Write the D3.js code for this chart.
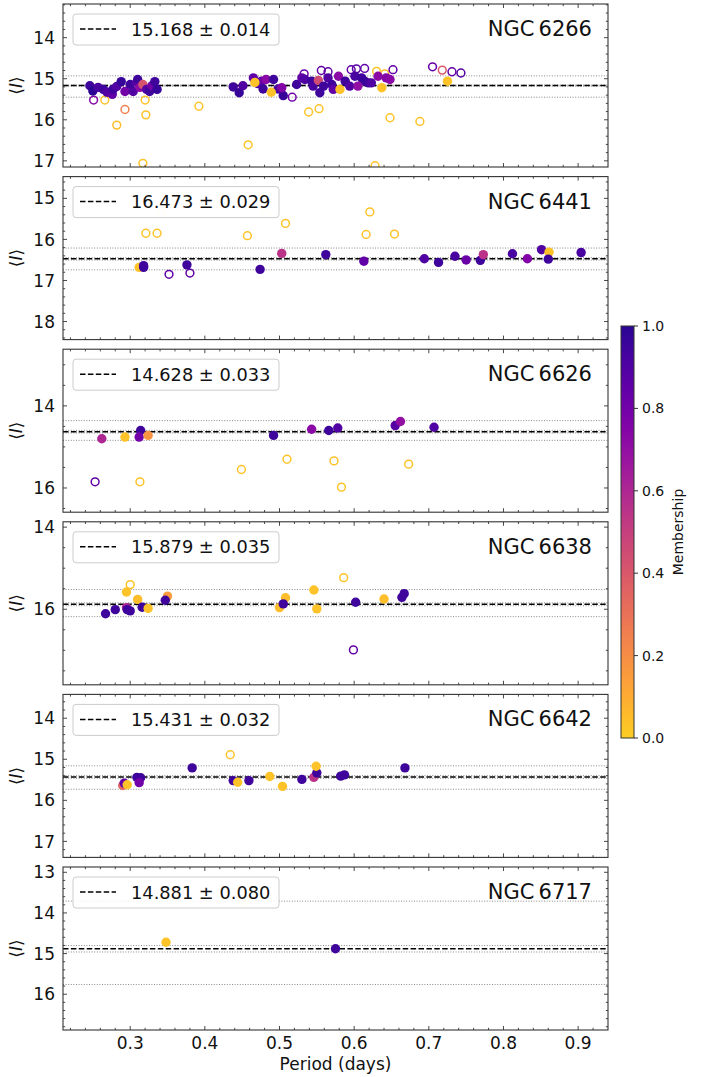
<!DOCTYPE html>
<html><head><meta charset="utf-8">
<script src="https://cdn.jsdelivr.net/npm/d3@7"></script>
<style>body{margin:0;background:#fff}svg{display:block;font-family:"DejaVu Sans",sans-serif}</style>
</head><body><svg id="c" width="708" height="1077"></svg>
<script>
// ---------- data ----------
const clusters = ["NGC 6266","NGC 6441","NGC 6626","NGC 6638","NGC 6642","NGC 6717"];
const means = [15.168,16.473,14.628,15.879,15.431,14.881];
const errs = [0.014,0.029,0.033,0.035,0.032,0.080];
const lowLines = [14.93,16.21,14.36,15.52,15.16,13.71];
const highLines = [15.45,16.74,14.84,16.18,15.73,15.76];
const yMins = [13.18,14.47,12.62,13.87,13.42,12.87];
const yMaxs = [17.15,18.44,16.59,17.84,17.39,16.88];
const yMajorSteps = [1,1,2,2,1,1];
const xDomain = [0.21,0.94];
const xTicks = [0.3,0.4,0.5,0.6,0.7,0.8,0.9];
const cbTicks = [0.0,0.2,0.4,0.6,0.8,1.0];
// [period, <I>, membership, open(1)/filled(0), faint(1)]
const ngc6266 = [
[0.246,15.17,0.95,0],[0.250,15.30,1,0],[0.257,15.21,0.92,0],[0.264,15.26,0.95,0],[0.269,15.33,0.9,0],[0.276,15.38,0.85,0],[0.277,15.26,0.95,0],[0.282,15.19,0.9,0],[0.288,15.07,0.97,0],[0.293,15.31,0.8,0],[0.300,15.14,0.95,0],[0.304,15.31,0.9,0],[0.309,15.09,0.85,0],[0.310,15.02,0.95,0],[0.313,15.21,0.72,0],[0.317,15.14,0.42,0],[0.322,15.26,0.88,0],[0.326,15.31,0.95,0],[0.329,15.17,0.8,0],[0.333,15.07,0.95,0],[0.336,15.26,0.97,0],
[0.438,15.20,0.95,0],[0.446,15.34,0.97,0],[0.451,15.17,0.9,0],[0.465,14.98,0.85,0],[0.471,15.12,0.9,0],[0.476,15.06,0.85,0],[0.482,15.02,0.72,0],[0.478,15.25,0.95,0],[0.492,15.02,0.95,0],[0.498,15.25,0.92,0],[0.505,15.41,0.97,0],[0.503,15.22,0.75,0],[0.523,15.14,0.95,0],[0.530,14.98,0.85,0],[0.534,15.02,0.9,0],[0.543,15.06,0.95,0],[0.545,15.18,0.92,0],[0.552,15.04,0.45,0],[0.559,15.18,0.95,0],[0.565,14.98,0.9,0],[0.570,15.14,0.95,0],[0.572,15.26,0.85,0],[0.579,14.94,0.72,0],[0.588,15.06,0.95,0],[0.594,15.18,0.9,0],[0.601,14.94,0.92,0],[0.554,15.34,0.95,0],[0.610,14.98,0.95,0],[0.614,15.06,0.97,0],[0.605,15.18,0.7,0],[0.619,15.10,0.95,0],[0.623,15.10,0.9,0],[0.632,14.94,0.72,0],[0.643,14.98,0.75,0],[0.648,15.02,0.72,0],
[0.467,15.09,0.03,0],[0.489,15.33,0.03,0],[0.581,15.26,0.03,0],[0.637,15.22,0.03,0],[0.725,15.06,0.03,0],
[0.251,15.52,0.75,1],[0.266,15.52,0.03,1],[0.320,15.52,0.03,1],[0.293,15.75,0.25,1],[0.282,16.13,0.05,1],[0.321,15.88,0.03,1],[0.317,17.06,0.03,1],[0.392,15.67,0.03,1],[0.517,15.45,0.8,1],[0.533,14.88,0.82,1],[0.556,14.80,0.85,1],[0.565,14.83,0.85,1],[0.596,14.78,0.85,1],[0.603,14.76,0.88,1],[0.614,14.75,0.85,1],[0.630,14.82,0.03,1],[0.641,14.88,0.05,1],[0.652,14.78,0.85,1],[0.705,14.71,0.85,1],[0.718,14.79,0.4,1],[0.731,14.83,0.85,1],[0.743,14.86,0.88,1],[0.539,15.81,0.03,1],[0.553,15.73,0.03,1],[0.458,16.61,0.03,1],[0.648,15.95,0.03,1],[0.688,16.04,0.03,1],[0.628,17.12,0.03,1]
];
const ngc6441 = [
[0.312,16.68,0.03,0],[0.318,16.68,0.95,0],[0.318,16.64,0.95,0],[0.321,15.85,0.03,1],[0.336,15.85,0.03,1],[0.342,15.35,0.0,1,1],[0.352,16.85,0.85,1],[0.376,16.62,0.95,0],[0.380,16.82,0.85,1],[0.457,15.91,0.03,1],[0.474,16.73,0.95,0],[0.482,15.35,0.0,1,1],[0.503,16.34,0.55,0],[0.508,15.61,0.03,1],[0.562,16.37,0.95,0],[0.613,16.53,0.85,0],[0.621,15.33,0.03,1],[0.616,15.88,0.03,1],[0.654,15.87,0.03,1],[0.694,16.47,0.9,0],[0.713,16.56,0.95,0],[0.735,16.41,0.92,0],[0.750,16.50,0.82,0],[0.769,16.51,0.95,0],[0.773,16.37,0.55,0],[0.812,16.35,0.92,0],[0.832,16.47,0.75,0],[0.851,16.25,0.9,0],[0.861,16.31,0.03,0],[0.860,16.48,0.95,0],[0.904,16.32,0.92,0]
];
const ngc6626 = [
[0.262,14.80,0.6,0],[0.253,15.85,0.85,1],[0.293,14.76,0.03,0],[0.314,14.60,0.95,0],[0.312,14.76,0.8,0],[0.324,14.72,0.18,0],[0.313,15.85,0.03,1],[0.449,15.55,0.03,1],[0.492,14.72,0.95,0],[0.510,15.30,0.03,1],[0.543,14.57,0.72,0],[0.566,14.60,0.95,0],[0.578,14.54,0.9,0],[0.573,15.34,0.03,1],[0.583,15.98,0.03,1],[0.655,14.48,0.88,0],[0.662,14.38,0.7,0],[0.673,15.42,0.03,1],[0.707,14.52,0.9,0]
];
const ngc6638 = [
[0.267,16.11,0.95,0],[0.280,16.01,0.95,0],[0.295,15.58,0.03,0],[0.300,15.40,0.03,1],[0.295,15.96,0.6,0],[0.296,16.01,0.95,0],[0.300,16.04,0.95,0],[0.310,15.76,0.05,0],[0.316,15.95,0.95,0],[0.324,15.98,0.03,0],[0.350,15.68,0.15,0],[0.347,15.78,0.95,0],[0.500,15.96,0.05,0],[0.508,15.72,0.05,0],[0.505,15.87,0.95,0],[0.546,15.53,0.03,0],[0.550,15.99,0.03,0],[0.586,15.23,0.03,1],[0.599,16.99,0.85,1],[0.602,15.83,0.95,0],[0.640,15.75,0.05,0],[0.664,15.71,0.95,0],[0.667,15.62,0.95,0]
];
const ngc6642 = [
[0.290,15.64,0.35,0],[0.292,15.58,0.85,0],[0.296,15.62,0.03,0],[0.309,15.44,0.95,0],[0.314,15.45,0.95,0],[0.312,15.57,0.8,0],[0.383,15.21,0.95,0],[0.434,14.89,0.03,1],[0.438,15.52,0.95,0],[0.444,15.56,0.03,0],[0.459,15.52,0.95,0],[0.487,15.42,0.03,0],[0.504,15.66,0.03,0],[0.530,15.49,0.95,0],[0.546,15.44,0.55,0],[0.550,15.33,0.95,0],[0.549,15.17,0.03,0],[0.582,15.41,0.95,0],[0.587,15.38,0.95,0],[0.668,15.21,0.95,0]
];
const ngc6717 = [
[0.348,14.72,0.03,0],[0.455,13.71,0.0,0,1],[0.575,14.88,0.95,0]
];
const stars = [ngc6266,ngc6441,ngc6626,ngc6638,ngc6642,ngc6717];

// ---------- layout ----------
const svg = d3.select("#c");
const L = 63, R = 608, PH = 163, PSTEP = 172.6, TOP0 = 4;
const frame = "#333";
const cmap = m => d3.interpolatePlasma(0.9 - 0.85*m);
const x = d3.scaleLinear().domain(xDomain).range([L,R]);

clusters.forEach((name,i)=>{
  const top = TOP0 + i*PSTEP, bot = top + PH;
  const y = d3.scaleLinear().domain([yMins[i],yMaxs[i]]).range([top,bot]);
  const g = svg.append("g");
  const clipId = "clip"+i;
  svg.append("clipPath").attr("id",clipId).append("rect").attr("x",L).attr("y",top).attr("width",R-L).attr("height",PH);
  const pg = g.append("g").attr("clip-path",`url(#${clipId})`);
  const dotted = [lowLines[i],highLines[i],means[i]-errs[i],means[i]+errs[i]];
  dotted.forEach(v=>pg.append("line").attr("x1",L).attr("x2",R).attr("y1",y(v)).attr("y2",y(v))
    .attr("stroke","#888").attr("stroke-width",1).attr("stroke-dasharray","1,1.6"));
  pg.append("line").attr("x1",L).attr("x2",R).attr("y1",y(means[i])).attr("y2",y(means[i]))
    .attr("stroke","#000").attr("stroke-width",1.5).attr("stroke-dasharray","5.5,2.4");
  const data = stars[i];
  pg.selectAll("circle.o").data(data.filter(d=>d[3]===1)).join("circle")
    .attr("cx",d=>x(d[0])).attr("cy",d=>y(d[1])).attr("r",3.9)
    .attr("fill","none").attr("stroke",d=>cmap(d[2])).attr("stroke-width",1.5)
    .attr("opacity",d=>d[4]?0.3:1);
  pg.selectAll("circle.f").data(data.filter(d=>d[3]===0)).join("circle")
    .attr("cx",d=>x(d[0])).attr("cy",d=>y(d[1])).attr("r",4.7)
    .attr("fill",d=>cmap(d[2])).attr("opacity",d=>d[4]?0.2:1);
  const st = yMajorSteps[i];
  const yMaj = d3.range(Math.ceil(yMins[i]/st)*st, yMaxs[i]+1e-9, st);
  const mst = st===1?0.2:0.5;
  const yMin = d3.range(Math.ceil(yMins[i]/mst-1e-9)*mst, yMaxs[i], mst).filter(v=>Math.abs(v/st-Math.round(v/st))>1e-6);
  const tk = g.append("g").attr("stroke",frame).attr("stroke-width",0.9);
  yMaj.forEach(v=>{tk.append("line").attr("x1",L).attr("x2",L+4).attr("y1",y(v)).attr("y2",y(v));
                   tk.append("line").attr("x1",R).attr("x2",R-4).attr("y1",y(v)).attr("y2",y(v));});
  yMin.forEach(v=>{tk.append("line").attr("x1",L).attr("x2",L+2.2).attr("y1",y(v)).attr("y2",y(v));
                   tk.append("line").attr("x1",R).attr("x2",R-2.2).attr("y1",y(v)).attr("y2",y(v));});
  const xMinT = d3.range(0.22,0.94,0.02).filter(v=>Math.abs(v*10-Math.round(v*10))>1e-6);
  xTicks.forEach(v=>{tk.append("line").attr("x1",x(v)).attr("x2",x(v)).attr("y1",bot).attr("y2",bot-4);
                     tk.append("line").attr("x1",x(v)).attr("x2",x(v)).attr("y1",top).attr("y2",top+4);});
  xMinT.forEach(v=>{tk.append("line").attr("x1",x(v)).attr("x2",x(v)).attr("y1",bot).attr("y2",bot-2.2);
                    tk.append("line").attr("x1",x(v)).attr("x2",x(v)).attr("y1",top).attr("y2",top+2.2);});
  g.append("rect").attr("x",L).attr("y",top).attr("width",R-L).attr("height",PH)
    .attr("fill","none").attr("stroke",frame).attr("stroke-width",1.1);
  yMaj.forEach(v=>g.append("text").attr("x",L-8).attr("y",y(v)).attr("dy","0.36em")
    .attr("text-anchor","end").attr("font-size",17).attr("fill","#111").text(d3.format("d")(v)));
  g.append("text").attr("transform",`translate(22,${(top+bot)/2}) rotate(-90)`)
    .attr("text-anchor","middle").attr("font-size",17).attr("fill","#111")
    .html('⟨<tspan font-style="italic">I</tspan>⟩');
  g.append("rect").attr("x",73).attr("y",top+10).attr("width",206).attr("height",31).attr("rx",3)
    .attr("fill","#fff").attr("fill-opacity",0.85).attr("stroke","#ccc").attr("stroke-width",1);
  g.append("line").attr("x1",80).attr("x2",116).attr("y1",top+25).attr("y2",top+25)
    .attr("stroke","#000").attr("stroke-width",1.5).attr("stroke-dasharray","5.5,2.4");
  g.append("text").attr("x",131).attr("y",top+31.5).attr("font-size",17.8).attr("fill","#111")
    .text(`${means[i].toFixed(3)} ± ${errs[i].toFixed(3)}`);
  g.append("text").attr("x",592).attr("y",top+32).attr("text-anchor","end").attr("font-size",21).attr("fill","#111")
    .text(name.replace(" ","\u2009"));
  if(i===clusters.length-1){
    xTicks.forEach(v=>g.append("text").attr("x",x(v)).attr("y",bot+19).attr("text-anchor","middle")
      .attr("font-size",17).attr("fill","#111").text(v.toFixed(1)));
    g.append("text").attr("x",(L+R)/2).attr("y",bot+40).attr("text-anchor","middle")
      .attr("font-size",17).attr("fill","#111").text("Period (days)");
  }
});

// ---------- colorbar ----------
const cbX = 621, cbW = 13, cbTop = 326, cbBot = 738;
const grad = svg.append("defs").append("linearGradient").attr("id","cb").attr("x1",0).attr("x2",0).attr("y1",1).attr("y2",0);
d3.range(0,1.0001,0.05).forEach(t=>grad.append("stop").attr("offset",t).attr("stop-color",cmap(t)));
svg.append("rect").attr("x",cbX).attr("y",cbTop).attr("width",cbW).attr("height",cbBot-cbTop).attr("fill","url(#cb)")
  .attr("stroke",frame).attr("stroke-width",1);
const cy = d3.scaleLinear().domain([0,1]).range([cbBot,cbTop]);
cbTicks.forEach(v=>{
  svg.append("line").attr("x1",cbX+cbW).attr("x2",cbX+cbW+4).attr("y1",cy(v)).attr("y2",cy(v)).attr("stroke",frame);
  svg.append("text").attr("x",cbX+cbW+8).attr("y",cy(v)).attr("dy","0.36em").attr("font-size",14).attr("fill","#111").text(v.toFixed(1));
});
svg.append("text").attr("transform",`translate(683,${(cbTop+cbBot)/2}) rotate(-90)`).attr("text-anchor","middle")
  .attr("font-size",14).attr("fill","#111").text("Membership");
</script></body></html>
